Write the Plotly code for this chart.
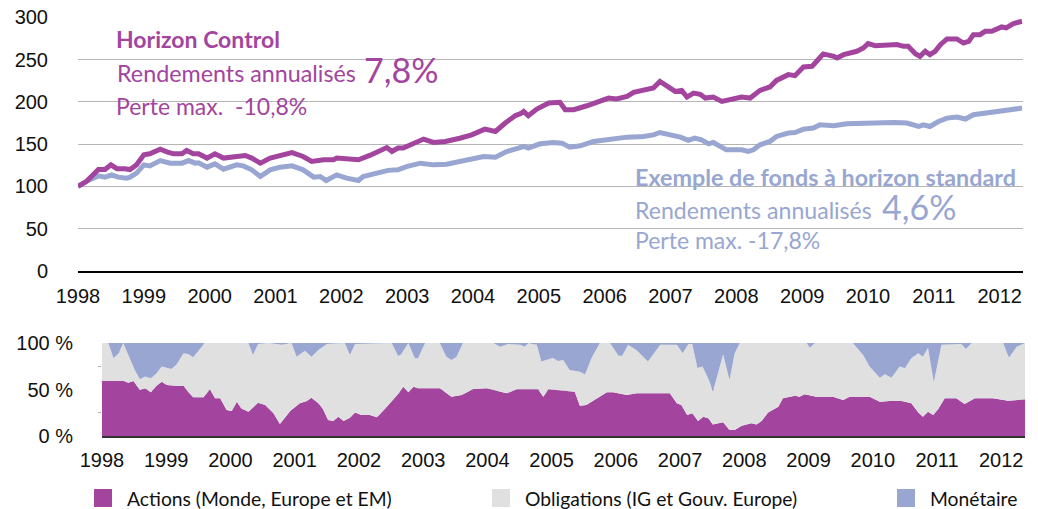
import plotly.graph_objects as go

# ---------------- data ----------------
# Top chart: cumulative performance (base 100 in 1998)
hc_years = [1998.00, 1998.13, 1998.31, 1998.41, 1998.50, 1998.59, 1998.71, 1998.79, 1998.89, 1999.00,
            1999.09, 1999.25, 1999.35, 1999.45, 1999.58, 1999.65, 1999.75, 1999.83, 1999.96, 2000.08,
            2000.21, 2000.41, 2000.54, 2000.64, 2000.77, 2000.92, 2001.12, 2001.25, 2001.42, 2001.55,
            2001.73, 2001.88, 2001.93, 2002.13, 2002.26, 2002.44, 2002.61, 2002.69, 2002.77, 2002.86,
            2002.94, 2003.04, 2003.25, 2003.40, 2003.58, 2003.80, 2003.98, 2004.18, 2004.34, 2004.49,
            2004.64, 2004.72, 2004.77, 2004.84, 2004.97, 2005.15, 2005.32, 2005.40, 2005.53, 2005.73,
            2005.88, 2006.06, 2006.18, 2006.34, 2006.44, 2006.64, 2006.74, 2006.84, 2006.94, 2007.07,
            2007.17, 2007.25, 2007.35, 2007.45, 2007.53, 2007.65, 2007.78, 2007.91, 2008.08, 2008.21,
            2008.36, 2008.51, 2008.61, 2008.79, 2008.89, 2009.02, 2009.15, 2009.22, 2009.32, 2009.48,
            2009.53, 2009.63, 2009.83, 2009.93, 2010.00, 2010.11, 2010.34, 2010.44, 2010.54, 2010.61,
            2010.72, 2010.79, 2010.87, 2010.94, 2011.02, 2011.10, 2011.20, 2011.35, 2011.45, 2011.53,
            2011.60, 2011.70, 2011.78, 2011.88, 2012.03, 2012.10, 2012.21, 2012.34]
horizon_control = [100, 106, 120, 120, 125.5, 121, 121, 120, 125.6, 137.4,
                   138.6, 144, 141, 138.6, 138.6, 142.5, 138.6, 138.6, 133.5, 138.6,
                   133.5, 135, 136.6, 133.5, 127.5, 133.5, 137.4, 140, 135.4, 129.5,
                   131.5, 131.5, 133.5, 132, 131.5, 137, 143, 146, 141.3, 145.3,
                   145.3, 149.2, 156, 152, 153.2, 157, 161, 167.8, 165, 175,
                   183.6, 186, 188.7, 183.6, 191.5, 198.6, 199.4, 190.7, 190.7, 195.4,
                   199.4, 204.5, 203.4, 206.5, 211.2, 214.4, 216.4, 224.2, 218.3, 212.4,
                   213.6, 205.7, 210.4, 209, 204.5, 205.7, 200.5, 203.4, 205.7, 204.5,
                   213.6, 217.6, 225.4, 232.2, 231, 241.3, 242, 248, 256.7, 253.8,
                   251.9, 255.8, 259.8, 263.7, 268.9, 266.5, 266.5, 267.7, 265.7, 265.7,
                   257, 253.8, 259.8, 255.8, 259.8, 267.7, 274.4, 274.4, 269.6, 271.6,
                   279.5, 279.5, 283.4, 283.4, 288.6, 287.4, 292.5, 295.3]

std_years = [1998.00, 1998.13, 1998.31, 1998.41, 1998.51, 1998.61, 1998.74, 1998.79, 1998.89, 1999.00,
             1999.09, 1999.25, 1999.40, 1999.58, 1999.68, 1999.78, 1999.83, 1999.96, 2000.08, 2000.21,
             2000.41, 2000.51, 2000.64, 2000.77, 2000.92, 2001.07, 2001.25, 2001.42, 2001.58, 2001.68,
             2001.77, 2001.93, 2002.08, 2002.26, 2002.33, 2002.54, 2002.71, 2002.86, 2002.99, 2003.20,
             2003.40, 2003.60, 2003.85, 2004.16, 2004.34, 2004.51, 2004.69, 2004.77, 2004.84, 2005.02,
             2005.22, 2005.35, 2005.47, 2005.63, 2005.83, 2006.08, 2006.34, 2006.59, 2006.74, 2006.84,
             2006.99, 2007.15, 2007.27, 2007.37, 2007.47, 2007.58, 2007.65, 2007.75, 2007.85, 2008.08,
             2008.18, 2008.26, 2008.36, 2008.51, 2008.61, 2008.79, 2008.89, 2009.02, 2009.17, 2009.27,
             2009.48, 2009.68, 2009.88, 2010.03, 2010.18, 2010.39, 2010.59, 2010.77, 2010.84, 2010.94,
             2011.07, 2011.20, 2011.35, 2011.48, 2011.60, 2011.81, 2012.01, 2012.16, 2012.34]
standard_fund = [100, 106, 112.5, 111, 113.7, 111, 109.8, 111, 115.7, 125.5,
                 124.3, 130.6, 127.5, 127.5, 130.6, 127.5, 128, 122.8, 126.7, 120.4,
                 125.5, 124.3, 119.6, 111.7, 119.6, 122.8, 124.3, 119.6, 111, 111.7,
                 107, 113.7, 109.8, 107, 111.7, 115.7, 119, 119.6, 123.5, 127.5,
                 125.5, 126.3, 130.6, 135.4, 134.6, 141.3, 145.3, 147.3, 145.3, 150.4,
                 152, 151.2, 146.5, 148, 153.2, 156, 158.3, 159.1, 161, 163.8,
                 161, 158.3, 154.4, 157.2, 155.2, 150.4, 152, 147.3, 143.3, 143.3,
                 141.3, 143.3, 149.2, 153.2, 159.1, 163.1, 163.8, 167.8, 169, 172.9,
                 171.7, 174.1, 174.9, 175.7, 174.9, 175.7, 174.9, 170.9, 172.9, 170.9,
                 176.8, 180.8, 182, 179.7, 184.8, 187.5, 189.9, 190.7, 192.7]

# Bottom chart: allocation of Horizon Control (%)
actions_years = [1998.00, 1998.33, 1998.41, 1998.49, 1998.59, 1998.67, 1998.76, 1998.85, 1998.93, 1999.01,
                 1999.14, 1999.27, 1999.34, 1999.42, 1999.58, 1999.68, 1999.76, 1999.84, 1999.94, 2000.02,
                 2000.10, 2000.17, 2000.28, 2000.43, 2000.54, 2000.67, 2000.77, 2000.93, 2001.08, 2001.19,
                 2001.26, 2001.37, 2001.44, 2001.52, 2001.60, 2001.68, 2001.76, 2001.86, 2001.94, 2002.04,
                 2002.17, 2002.28, 2002.41, 2002.53, 2002.62, 2002.69, 2002.77, 2002.85, 2002.92, 2003.26,
                 2003.44, 2003.60, 2003.78, 2003.99, 2004.30, 2004.46, 2004.79, 2004.87, 2004.95, 2005.36,
                 2005.44, 2005.54, 2005.86, 2005.96, 2006.17, 2006.32, 2006.84, 2006.95, 2007.02, 2007.11,
                 2007.19, 2007.28, 2007.36, 2007.44, 2007.51, 2007.67, 2007.77, 2007.85, 2007.96, 2008.11,
                 2008.19, 2008.27, 2008.37, 2008.53, 2008.60, 2008.79, 2008.86, 2008.94, 2009.12, 2009.38,
                 2009.54, 2009.64, 2009.95, 2010.11, 2010.26, 2010.45, 2010.60, 2010.71, 2010.78, 2010.86,
                 2010.94, 2011.02, 2011.12, 2011.30, 2011.43, 2011.59, 2011.87, 2012.11, 2012.37]
actions = [59.5, 59.5, 57.3, 59.1, 49.5, 51.3, 47, 54, 58.4, 54.8,
           54.1, 54.1, 47.7, 41.6, 41.6, 50.2, 40.5, 40.5, 28, 26.9,
           36.9, 29.7, 26.2, 35.8, 33.3, 24.4, 12.9, 26.9, 35.1, 37.6,
           41.2, 35.1, 29, 17.2, 16.1, 20.8, 16.1, 19.7, 25.4, 22.6,
           22.6, 20.1, 29.7, 38.7, 46, 53, 47, 53, 51.3, 51.3,
           42.3, 44.1, 50.5, 51.3, 45.9, 50.2, 50.2, 42.3, 50.2, 47.7,
           32.6, 33.3, 47, 47, 44.1, 45.9, 45.9, 35.1, 33.3, 22.6,
           24.4, 16.1, 20.8, 19, 12.5, 14.7, 6.5, 6.5, 11.1, 13.6,
           12.5, 16.1, 25.4, 31.5, 40.5, 43.4, 42.3, 44.8, 42.3, 42.3,
           38.7, 42.3, 42.3, 36.9, 37.6, 37.6, 35.1, 25.4, 20.8, 26.2,
           22.6, 29, 40.5, 40.5, 34.4, 40.5, 40.5, 38, 39.4]

monetaire_years = [1998.00, 1998.10, 1998.18, 1998.26, 1998.33, 1998.41, 1998.51, 1998.59, 1998.67, 1998.76,
                   1998.85, 1998.93, 1999.08, 1999.16, 1999.27, 1999.35, 1999.42, 1999.60, 2000.28, 2000.35,
                   2000.43, 2000.59, 2000.80, 2000.95, 2001.03, 2001.16, 2001.26, 2001.37, 2001.50, 2001.78,
                   2001.86, 2001.94, 2002.51, 2002.61, 2002.66, 2002.72, 2002.77, 2002.87, 2002.92, 2003.03,
                   2003.26, 2003.36, 2003.44, 2003.52, 2003.62, 2004.09, 2004.20, 2004.32, 2004.51, 2004.58,
                   2004.64, 2004.69, 2004.77, 2004.84, 2005.02, 2005.10, 2005.18, 2005.28, 2005.44, 2005.52,
                   2005.62, 2005.75, 2005.91, 2006.04, 2006.10, 2006.19, 2006.32, 2006.50, 2006.69, 2006.95,
                   2007.04, 2007.13, 2007.19, 2007.27, 2007.35, 2007.46, 2007.51, 2007.59, 2007.67, 2007.77,
                   2007.85, 2007.93, 2008.97, 2009.02, 2009.10, 2009.69, 2009.85, 2009.95, 2010.11, 2010.19,
                   2010.29, 2010.42, 2010.50, 2010.60, 2010.71, 2010.78, 2010.86, 2010.95, 2011.07, 2011.38,
                   2011.45, 2011.54, 2012.03, 2012.12, 2012.24, 2012.37]
monetaire = [0, 0, 16.5, 11, 0, 13, 29, 39, 36, 38,
             32.6, 25.4, 28, 23, 11, 12, 15.4, 0, 0, 13,
             1, 0, 2, 0, 14.7, 8.2, 14.7, 7.5, 1, 0,
             13, 1, 0, 14, 12, 5, 0, 16.5, 16.5, 0,
             0, 14.7, 18.3, 14.7, 0, 0, 4, 1, 2, 4,
             0, 1, 2, 20, 16, 19.4, 18.3, 29, 31, 34,
             16.5, 0, 0, 13.6, 13.6, 2, 7.5, 20, 2, 2,
             11, 1, 1, 27, 25.4, 41.6, 52.3, 32.6, 12.2, 39.8,
             11.1, 0, 0, 5, 0, 0, 13, 25.4, 37.3, 33.7,
             37.3, 25.4, 27.2, 16.5, 11, 14.7, 5, 42.3, 2, 1,
             6.5, 0, 0, 15.8, 4, 0]

year_ticks = list(range(1998, 2013))
perf_ticks = [0, 50, 100, 150, 200, 250, 300]
alloc_ticks = [0, 50, 100]
alloc_ticktext = ["0 %", "50 %", "100 %"]
alloc_minor_ticks = [25, 75]

legend_labels = ["Actions (Monde, Europe et EM)", "Obligations (IG et Gouv. Europe)", "Monétaire"]

# ---------------- styling ----------------
W, H = 1038, 509          # browser window = figure size (page margin removed below)
PURPLE = "#a3449e"
BLUE = "#98a6d1"
GREY = "#e0e0e0"
TXT_FONT = "Lato"
AX_FONT = "Liberation Sans"

PERF_TOP = 301            # a little headroom so the 300 gridline is kept
Y0_PX, Y300_PX = 271, 17.3
PERF_TOP_PX = Y0_PX - (Y0_PX - Y300_PX) * PERF_TOP / 300


def px(x):
    return x / W


def py(y):
    return 1 - y / H


fig = go.Figure()

# top chart
fig.add_trace(go.Scatter(x=std_years, y=standard_fund, mode="lines",
                         line=dict(color=BLUE, width=5), xaxis="x", yaxis="y",
                         showlegend=False, hoverinfo="skip"))
fig.add_trace(go.Scatter(x=hc_years, y=horizon_control, mode="lines",
                         line=dict(color=PURPLE, width=5), xaxis="x", yaxis="y",
                         showlegend=False, hoverinfo="skip"))

# bottom chart (stacked allocation)
oblig_top = [100 - m for m in monetaire]
fig.add_trace(go.Scatter(x=actions_years, y=actions, mode="lines", line=dict(width=0, color=PURPLE),
                         fill="tozeroy", fillcolor=PURPLE, xaxis="x2", yaxis="y2",
                         showlegend=False, hoverinfo="skip"))
fig.add_trace(go.Scatter(x=monetaire_years, y=oblig_top, mode="lines", line=dict(width=0, color=GREY),
                         fill="tonexty", fillcolor=GREY, xaxis="x2", yaxis="y2",
                         showlegend=False, hoverinfo="skip"))
fig.add_trace(go.Scatter(x=monetaire_years, y=[o + m for o, m in zip(oblig_top, monetaire)], mode="lines",
                         line=dict(width=0, color=BLUE),
                         fill="tonexty", fillcolor=BLUE, xaxis="x2", yaxis="y2",
                         showlegend=False, hoverinfo="skip"))

axis_font = dict(family=AX_FONT, size=20, color="#111111")

fig.update_layout(
    width=W, height=H, autosize=False,
    margin=dict(l=0, r=0, t=0, b=0, pad=0, autoexpand=False),
    paper_bgcolor="white", plot_bgcolor="white",
    showlegend=False,
    xaxis=dict(domain=[px(78), px(1022.7)], range=[1998, 2012.35], tickvals=year_ticks,
               showgrid=False, zeroline=False, showline=True, linecolor="#000000", linewidth=2,
               ticks="", tickfont=axis_font, ticklabelstandoff=6, anchor="y", automargin=False,
               ticklabeloverflow="allow"),
    yaxis=dict(domain=[py(Y0_PX), py(PERF_TOP_PX)], range=[0, PERF_TOP], tickvals=perf_ticks,
               showgrid=True, gridcolor="#b5b5b5", gridwidth=1.3, zeroline=False, showline=False,
               ticks="", tickfont=axis_font, ticklabelstandoff=29, anchor="x", automargin=False,
               ticklabeloverflow="allow"),
    xaxis2=dict(domain=[px(102), px(1025)], range=[1998, 2012.37], tickvals=year_ticks,
                showgrid=False, zeroline=False, showline=True, linecolor="#333333", linewidth=2,
                ticks="", tickfont=axis_font, ticklabelstandoff=5, anchor="y2", automargin=False,
                ticklabeloverflow="allow"),
    yaxis2=dict(domain=[py(436), py(343)], range=[0, 100], tickvals=alloc_ticks, ticktext=alloc_ticktext,
                showgrid=True, gridcolor="#b0b0b0", gridwidth=2, zeroline=False, showline=False,
                ticks="outside", ticklen=24, tickcolor="rgba(0,0,0,0)", tickfont=axis_font,
                minor=dict(tickvals=alloc_minor_ticks, ticks="outside", ticklen=3, tickcolor="#b0b0b0",
                           showgrid=False),
                anchor="x2", automargin=False, ticklabeloverflow="allow"),
)

# white boxes behind the texts (interrupt gridlines)
fig.add_shape(type="rect", xref="paper", yref="paper", x0=px(92), x1=px(446), y0=py(108), y1=py(26),
              fillcolor="white", line=dict(width=0), layer="between")
fig.add_shape(type="rect", xref="paper", yref="paper", x0=px(605), x1=px(1030), y0=py(256), y1=py(152),
              fillcolor="white", line=dict(width=0), layer="between")


def note(text, x, y, size, color, bold=False):
    fig.add_annotation(text=f"<b>{text}</b>" if bold else text, xref="paper", yref="paper",
                       x=px(x), y=py(y), xanchor="left", yanchor="middle", showarrow=False,
                       borderpad=0, font=dict(family=TXT_FONT, size=size, color=color))


note("Horizon Control", 115, 39, 23, PURPLE, bold=True)
note("Rendements annualisés", 116, 73, 23.3, PURPLE)
note("7,8%", 363, 69, 34, PURPLE)
note("Perte max.\u00a0 -10,8%", 115, 106, 23, PURPLE)

note("Exemple de fonds à horizon standard", 634, 177, 23.3, BLUE, bold=True)
note("Rendements annualisés", 634, 210, 23.1, BLUE)
note("4,6%", 881, 207, 34, BLUE)
note("Perte max. -17,8%", 634, 240, 23, BLUE)

# legend
legend_colors = [PURPLE, GREY, BLUE]
legend_sq_x = [94, 492, 897]
for lab, col, x0 in zip(legend_labels, legend_colors, legend_sq_x):
    fig.add_shape(type="rect", xref="paper", yref="paper", x0=px(x0), x1=px(x0 + 18),
                  y0=py(507), y1=py(489), fillcolor=col, line=dict(width=0))
    fig.add_annotation(text=lab, xref="paper", yref="paper", x=px(x0 + 32), y=py(498),
                       xanchor="left", yanchor="middle", showarrow=False, borderpad=0,
                       font=dict(family=TXT_FONT, size=19.3, color="#111111"))

# remove the browser's default 8px page margin so the figure fills the window exactly
fig.write_html("out.html", config={"displayModeBar": False},
               post_script="document.body.style.margin='0';")
